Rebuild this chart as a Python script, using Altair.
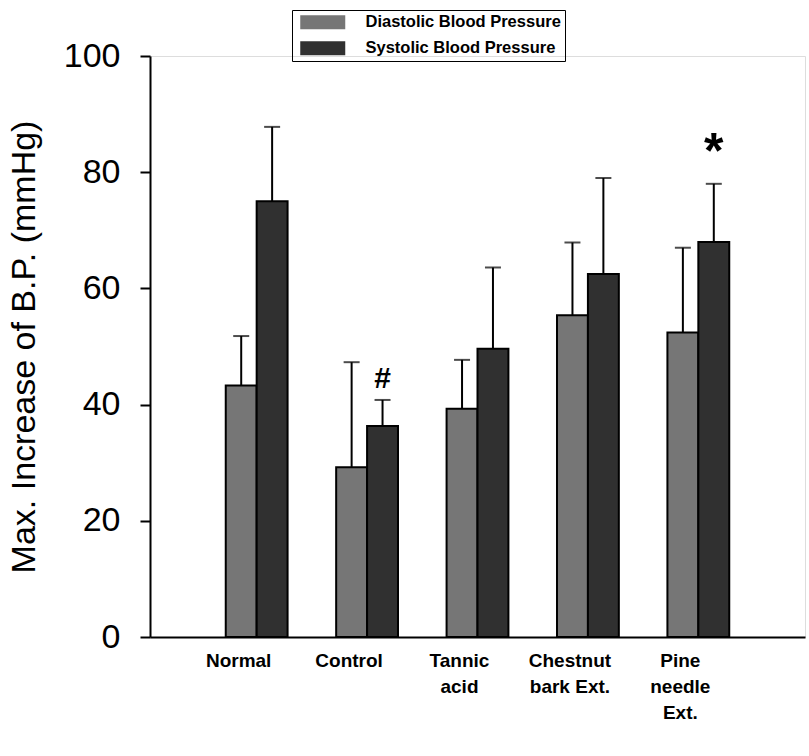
import altair as alt
import pandas as pd

categories = ["Normal", "Control", "Tannic|acid", "Chestnut|bark Ext.", "Pine|needle|Ext."]
series = ["Diastolic Blood Pressure", "Systolic Blood Pressure"]
diastolic_mean = [43.3, 29.2, 39.3, 55.4, 52.4]
diastolic_err = [8.5, 18.1, 8.4, 12.5, 14.6]
systolic_mean = [75.0, 36.3, 49.6, 62.5, 68.0]
systolic_err = [12.8, 4.5, 14.0, 16.5, 10.0]
systolic_marks = ["", "#", "", "", "*"]
y_ticks = [0, 20, 40, 60, 80, 100]

rows = []
for i, c in enumerate(categories):
    rows.append(dict(cat=c, series=series[0], mean=diastolic_mean[i],
                     upper=diastolic_mean[i] + diastolic_err[i], mark=""))
    rows.append(dict(cat=c, series=series[1], mean=systolic_mean[i],
                     upper=systolic_mean[i] + systolic_err[i], mark=systolic_marks[i]))
df = pd.DataFrame(rows)

FONT = "Liberation Sans"

x_enc = alt.X("cat:N", sort=categories,
              scale=alt.Scale(paddingInner=0.44, paddingOuter=0.686),
              axis=alt.Axis(title=None, labelExpr="split(datum.label, '|')", labelAngle=0,
                            labelFontSize=19, labelFont=FONT, labelFontWeight="bold",
                            labelLineHeight=26, ticks=False, labelPadding=14,
                            labelOffset=-18,
                            domainWidth=2, domainColor="black", labelColor="black",
                            labelBaseline="top"))
xo_enc = alt.XOffset("series:N", sort=series, scale=alt.Scale(paddingInner=0, paddingOuter=0))
y_scale = alt.Scale(domain=[0, 100], nice=False)

bars = alt.Chart(df).mark_bar(stroke="black", strokeWidth=2).encode(
    x=x_enc,
    xOffset=xo_enc,
    y=alt.Y("mean:Q", scale=y_scale,
            axis=alt.Axis(values=y_ticks, title="Max. Increase of B.P. (mmHg)",
                          labelFontSize=34, labelFont=FONT, titleFont=FONT,
                          titleFontSize=34, titleFontWeight="normal", titleColor="black",
                          labelColor="black", tickSize=10, tickWidth=2, tickColor="black",
                          domainWidth=2, domainColor="black", grid=False,
                          labelPadding=20, titlePadding=22)),
    color=alt.Color("series:N", sort=series,
                    scale=alt.Scale(domain=series, range=["#767676", "#303030"]),
                    legend=alt.Legend(orient="none", legendX=142, legendY=-46, title=None,
                                      strokeColor="black", padding=4,
                                      symbolType="M-0.5,-0.875H5.125V0.875H-0.5Z",
                                      symbolSize=256, symbolStrokeWidth=0,
                                      labelFontSize=16.5, labelFont=FONT, labelFontWeight="bold",
                                      labelColor="black", labelOffset=53, rowPadding=9,
                                      labelLimit=400)),
)

err_rule = alt.Chart(df).mark_rule(color="black", strokeWidth=2).encode(
    x=alt.X("cat:N", sort=categories), xOffset=xo_enc,
    y=alt.Y("mean:Q", scale=y_scale), y2="upper:Q")

err_cap = alt.Chart(df).mark_tick(color="black", thickness=2, size=16, orient="horizontal").encode(
    x=alt.X("cat:N", sort=categories), xOffset=xo_enc,
    y=alt.Y("upper:Q", scale=y_scale))

marks = alt.Chart(df).transform_filter("datum.mark != ''").mark_text(
    baseline="bottom", dy=-6, fontWeight="bold", font=FONT, color="black").encode(
    x=alt.X("cat:N", sort=categories), xOffset=xo_enc,
    y=alt.Y("upper:Q", scale=y_scale), text="mark:N",
    size=alt.condition("datum.mark == '*'", alt.value(50), alt.value(30)))

chart = alt.layer(bars, err_rule, err_cap, marks).properties(
    width=655, height=581,
    autosize=alt.AutoSizeParams(type="none"),
    padding={"left": 150, "top": 56, "right": 4, "bottom": 119},
).configure_view(strokeWidth=0).configure(background="white")

chart.save("out.html", embed_options={"renderer": "svg", "actions": False})
